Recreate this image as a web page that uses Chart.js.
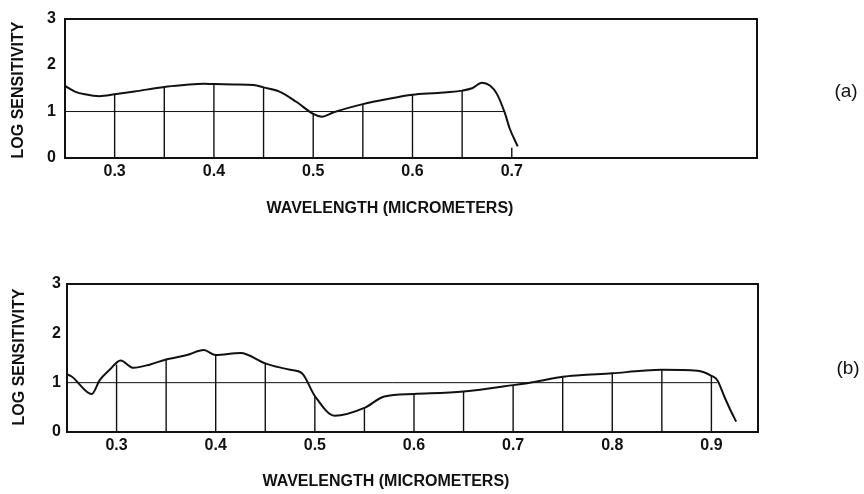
<!DOCTYPE html>
<html>
<head>
<meta charset="utf-8">
<script src="https://cdn.jsdelivr.net/npm/chart.js@4/dist/chart.umd.min.js"></script>
<style>
  html,body{margin:0;padding:0;background:#fff;}
  #wrap{position:relative;width:864px;height:494px;overflow:hidden;font-family:"Liberation Sans",Arial,sans-serif;color:#111;}
  canvas{position:absolute;left:0;}
  .lbl{position:absolute;transform:translate(-50%,-50%);white-space:nowrap;line-height:1;}
  .ytitle{font-weight:bold;font-size:16px;transform:translate(-50%,-50%) rotate(-90deg);}
  .xtitle{font-weight:bold;font-size:16px;}
  .panel{font-size:19px;}
</style>
</head>
<body>
<div id="wrap">
  <canvas id="cA" width="864" height="247" style="top:0px"></canvas>
  <canvas id="cB" width="864" height="247" style="top:247px"></canvas>
  <div class="lbl ytitle" style="left:18px;top:90px">LOG SENSITIVITY</div>
  <div class="lbl xtitle" style="left:390px;top:208px">WAVELENGTH (MICROMETERS)</div>
  <div class="lbl panel" style="left:846px;top:90px">(a)</div>
  <div class="lbl ytitle" style="left:19px;top:357px">LOG SENSITIVITY</div>
  <div class="lbl xtitle" style="left:386px;top:481px">WAVELENGTH (MICROMETERS)</div>
  <div class="lbl panel" style="left:848px;top:367px">(b)</div>
</div>
<script>
// ---- data (a) ----
const wavelengthA = [0.25,0.26,0.27,0.285,0.30,0.32,0.35,0.37,0.39,0.40,0.42,0.44,0.45,0.466,0.483,0.50,0.509,0.52,0.55,0.575,0.60,0.625,0.65,0.66,0.67,0.678,0.685,0.693,0.698,0.706];
const logSensA   = [1.55,1.43,1.37,1.33,1.37,1.43,1.53,1.57,1.60,1.59,1.58,1.57,1.52,1.43,1.21,0.95,0.89,0.98,1.16,1.27,1.36,1.40,1.45,1.50,1.62,1.56,1.38,0.97,0.63,0.25];
const dropXA = [0.30,0.35,0.40,0.45,0.50,0.55,0.60,0.65,0.70];
const dropYA = [1.37,1.53,1.59,1.52,0.95,1.16,1.36,1.45,0.22];
const refXA  = [0.25,0.693];
const tickLabelsA = [0.3,0.4,0.5,0.6,0.7];

// ---- data (b) ----
const wavelengthB = [0.25,0.255,0.275,0.283,0.293,0.304,0.317,0.334,0.35,0.371,0.388,0.40,0.425,0.45,0.462,0.475,0.487,0.50,0.52,0.55,0.57,0.60,0.65,0.70,0.723,0.75,0.767,0.80,0.83,0.85,0.886,0.90,0.906,0.913,0.92,0.925];
const logSensB   = [1.17,1.12,0.77,1.05,1.26,1.45,1.30,1.37,1.47,1.56,1.66,1.56,1.60,1.39,1.32,1.26,1.19,0.73,0.33,0.49,0.72,0.77,0.82,0.95,1.02,1.12,1.15,1.19,1.24,1.26,1.24,1.14,1.05,0.72,0.41,0.21];
const dropXB = [0.30,0.35,0.40,0.45,0.50,0.55,0.60,0.65,0.70,0.75,0.80,0.85,0.90];
const dropYB = [1.37,1.47,1.56,1.39,0.73,0.49,0.77,0.82,0.95,1.12,1.19,1.26,1.14];
const refXB  = [0.25,0.906];
const tickLabelsB = [0.3,0.4,0.5,0.6,0.7,0.8,0.9];

const yTicks = [0,1,2,3];
const refLevel = 1;
const xMin = 0.25, xMax = 0.947, yMin = 0, yMax = 3;

const INK = '#111';
const tickFont = {family:'"Liberation Sans", Arial, sans-serif', size:16, weight:'bold'};

function pts(xs, ys){ return xs.map((x,i)=>({x, y:ys[i]})); }
function drops(xs, ys){ const d=[]; xs.forEach((x,i)=>{ d.push({x,y:0},{x,y:ys[i]},{x,y:null}); }); return d; }

function makeChart(id, xs, ys, dx, dy, refX, xLabels, geom){
  return new Chart(document.getElementById(id), {
    type:'scatter',
    data:{ datasets:[
      { data: pts(xs, ys), showLine:true, borderColor:INK, borderWidth:2, pointRadius:0, cubicInterpolationMode:'monotone', fill:false },
      { data: refX.map(x=>({x, y:refLevel})), showLine:true, borderColor:INK, borderWidth:1, pointRadius:0 },
      { data: drops(dx, dy), showLine:true, spanGaps:false, borderColor:INK, borderWidth:1.4, pointRadius:0 }
    ]},
    options:{
      responsive:false, animation:false, devicePixelRatio:1,
      layout:{ padding:{ left:0, top:geom.top, right:geom.right, bottom:geom.bottom } },
      plugins:{ legend:{display:false}, tooltip:{enabled:false} },
      scales:{
        x:{ type:'linear', position:'bottom', min:xMin, max:xMax,
            afterBuildTicks: s => { s.ticks = xLabels.map(v=>({value:v})); },
            afterFit: s => { s.height = 30; },
            grid:{ display:false, drawTicks:false },
            border:{ display:true, color:INK, width:2 },
            ticks:{ color:INK, font:tickFont, padding:4, maxRotation:0, autoSkip:false,
                    callback: v => Number(v).toFixed(1) } },
        x2:{ type:'linear', position:'top', min:xMin, max:xMax,
            afterFit: s => { s.height = 0; },
            grid:{ display:false, drawTicks:false },
            border:{ display:true, color:INK, width:2 },
            ticks:{ display:false } },
        y:{ type:'linear', position:'left', min:yMin, max:yMax,
            afterBuildTicks: s => { s.ticks = yTicks.map(v=>({value:v})); },
            afterFit: s => { s.width = geom.left; },
            grid:{ display:false, drawTicks:false },
            border:{ display:true, color:INK, width:2 },
            ticks:{ color:INK, font:tickFont, padding:geom.ypad, callback: v => String(v) } },
        y2:{ type:'linear', position:'right', min:yMin, max:yMax,
            afterFit: s => { s.width = 0; },
            grid:{ display:false, drawTicks:false },
            border:{ display:true, color:INK, width:2 },
            ticks:{ display:false } }
      }
    }
  });
}

makeChart('cA', wavelengthA, logSensA, dropXA, dropYA, refXA, tickLabelsA,
  { left:65, top:10, right:107, bottom:247-158-30, ypad:9 });
makeChart('cB', wavelengthB, logSensB, dropXB, dropYB, refXB, tickLabelsB,
  { left:67, top:37, right:106, bottom:247-185-30, ypad:6 });
</script>
</body>
</html>
